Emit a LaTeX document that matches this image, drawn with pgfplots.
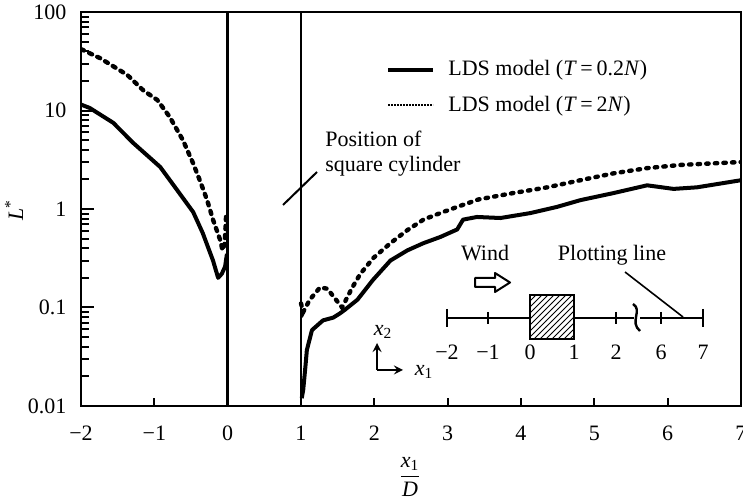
\documentclass[border=0pt]{standalone}
\usepackage{fontspec}
\setmainfont{Liberation Serif}
\usepackage{pgfplots}
\pgfplotsset{compat=1.18}
\usetikzlibrary{patterns}

\begin{document}
\fontsize{11}{13}\selectfont
\begin{tikzpicture}
\begin{axis}[
    name=ax,
    at={(0,0)},
    anchor=south west,
    scale only axis,
    width=330pt,
    height=197pt,
    ymode=log,
    xmin=-2, xmax=7,
    ymin=0.01, ymax=100,
    xtick={-2,-1,0,1,2,3,4,5,6,7},
    xticklabels={−2,−1,0,1,2,3,4,5,6,7},
    ytick={0.01,0.1,1,10,100},
    yticklabels={0.01,0.1,1,10,100},
    minor ytick={0.02,0.03,0.04,0.05,0.06,0.07,0.08,0.09,
                 0.2,0.3,0.4,0.5,0.6,0.7,0.8,0.9,
                 2,3,4,5,6,7,8,9,20,30,40,50,60,70,80,90},
    tick align=inside,
    xtick pos=bottom,
    ytick pos=left,
    axis line style={line width=1pt},
    major tick length=6.5pt,
    minor tick length=4pt,
    tick style={black, line width=1pt},
    xtick style={/pgfplots/major tick length=4pt},
    xticklabel style={yshift=-6pt},
    yticklabel style={xshift=-3.5pt},
]

% walls of the square cylinder
\addplot[black, line width=1.4pt] coordinates {(0,0.01) (0,100)};
\addplot[black, line width=1.4pt] coordinates {(1,0.01) (1,100)};

% LDS model T=0.2N, upstream
\addplot[black, line width=2pt, line join=round] table {
x      y
-2.00  11.5
-1.88  10.6
-1.56  7.5
-1.29  4.7
-0.92  2.67
-0.69  1.56
-0.47  0.93
-0.34  0.57
-0.20  0.30
-0.13  0.20
-0.08  0.22
-0.035 0.26
-0.01  0.35
};

% LDS model T=0.2N, downstream
\addplot[black, line width=2pt, line join=round] table {
x      y
1.01   0.012
1.03   0.0145
1.06   0.025
1.08   0.037
1.15   0.059
1.30   0.074
1.44   0.079
1.53   0.087
1.60   0.095
1.77   0.12
1.98   0.19
2.22   0.30
2.45   0.38
2.67   0.45
2.90   0.52
3.13   0.62
3.21   0.78
3.40   0.83
3.72   0.81
4.13   0.91
4.49   1.05
4.81   1.23
5.26   1.45
5.72   1.74
6.08   1.60
6.40   1.66
7.00   1.96
};

% LDS model T=2N, upstream
\addplot[black, line width=2.2pt, dash pattern=on 1.6pt off 2.9pt, line cap=round] table {
x      y
-2.00  42
-1.74  34
-1.37  23
-1.15  16
-0.96  12.8
-0.79  8.6
-0.61  5.0
-0.47  2.9
-0.38  1.96
-0.28  1.23
-0.20  0.78
-0.10  0.48
-0.07  0.38
-0.04  0.45
-0.02  0.9
};

% LDS model T=2N, downstream
\addplot[black, line width=2.2pt, dash pattern=on 1.2pt off 3.1pt, line cap=round] table {
x      y
1.00   0.11
1.03   0.09
1.12   0.12
1.26   0.16
1.36   0.155
1.44   0.13
1.56   0.10
1.70   0.16
1.81   0.22
1.99   0.32
2.22   0.45
2.45   0.61
2.67   0.78
2.90   0.91
3.13   1.05
3.42   1.25
3.89   1.45
4.36   1.66
4.81   1.96
5.26   2.3
5.72   2.6
6.17   2.8
7.00   3.0
};

\end{axis}

% annotations, in pixel units of the reference
\begin{scope}[shift={(-40.5pt,203pt)}, x=0.5pt, y=-0.5pt]
  % legend
  \draw[line width=2pt] (388,70) -- (433,70);
  \node[anchor=base west, inner sep=0pt] at (448,76) {LDS model (\textit{T}\,=\,0.2\textit{N})};
  \draw[line width=1.4pt, dash pattern=on 0.9pt off 0.6pt] (388,105) -- (433,105);
  \node[anchor=base west, inner sep=0pt] at (448,112) {LDS model (\textit{T}\,=\,2\textit{N})};

  % cylinder position note
  \node[anchor=base west, inner sep=0pt] at (325,147) {Position of};
  \node[anchor=base west, inner sep=0pt] at (325,172) {square cylinder};
  \draw[line width=1pt] (283,205) -- (317,172);

  % axis labels
  \node[rotate=90] at (14,210) {\textit{L}\textsuperscript{*}};
  \node at (410,477) {$\displaystyle\frac{\mbox{\textit{x}\textsubscript{1}}}{\mbox{\itshape D}}$};

  % coordinate symbol
  \draw[line width=1pt, -stealth] (377,370) -- (377,343);
  \draw[line width=1pt, -stealth] (377,370) -- (403,370);
  \node at (383,332) {\textit{x}\textsubscript{2}};
  \node at (424,372) {\textit{x}\textsubscript{1}};

  % inset sketch of the plotting line
  \node[anchor=base, inner sep=0pt] at (485,261) {Wind};
  \node[anchor=base, inner sep=0pt] at (612,261) {Plotting line};
  \draw[line width=1pt, line join=round]
    (475,278) -- (495,278) -- (495,273) -- (510,282.5) -- (495,292) -- (495,287) -- (475,287) -- cycle;
  \draw[line width=0.8pt] (625,272) -- (683,317);
  \draw[line width=1.2pt] (447,318) -- (703,318);
  \foreach \px in {447,703} \draw[line width=1.2pt] (\px,309) -- (\px,327);
  \foreach \px in {488,616,661} \draw[line width=1.2pt] (\px,312) -- (\px,324);
  \fill[white] (530,295) rectangle (574,339);
  \fill[pattern=north east lines] (530,295) rectangle (574,339);
  \draw[line width=1.2pt] (530,295) rectangle (574,339);
  \draw[line width=1.4pt, white] (634,318) -- (640,318);
  \draw[line width=1.2pt] (633,304) .. controls (643,310) and (629,322) .. (640,331);
  \foreach \px/\lab in {447/−2,488/−1,530/0,574/1,616/2,661/6,703/7}
    \node at (\px,352) {\lab};

  \pgfresetboundingbox
  \path[use as bounding box] (0,0) rectangle (743,501);
\end{scope}
\end{tikzpicture}
\end{document}
